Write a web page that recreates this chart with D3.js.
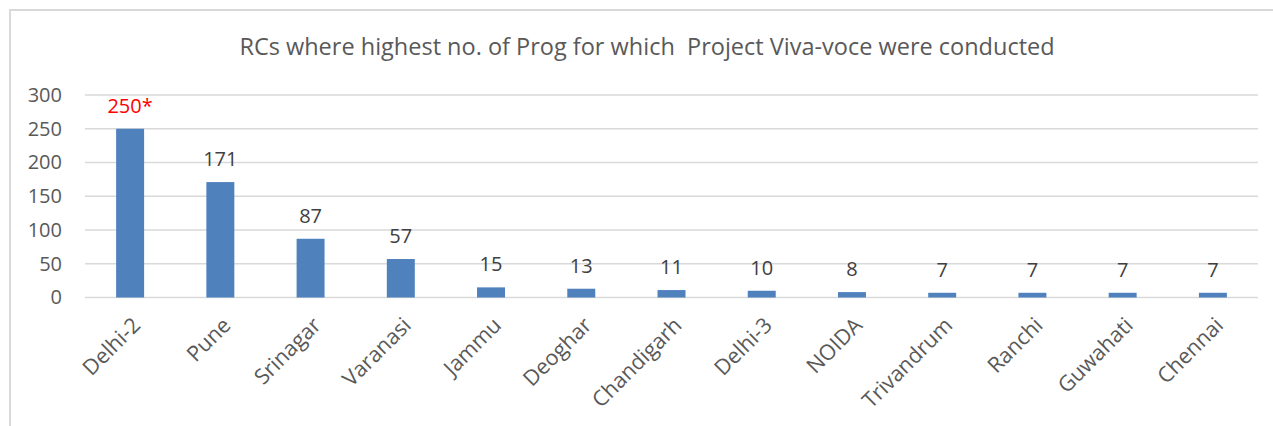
<!DOCTYPE html>
<html lang="en">
<head>
    <meta charset="UTF-8">
    <title>RCs chart</title>
    <script src="https://d3js.org/d3.v7.min.js"></script>
    <style>
        body { margin: 0; background: #fff; }
        text { font-family: "Open Sans", sans-serif; fill: #595959; }
    </style>
</head>
<body>
    <script>
        // data
        var centres = ["Delhi-2", "Pune", "Srinagar", "Varanasi", "Jammu", "Deoghar", "Chandigarh",
            "Delhi-3", "NOIDA", "Trivandrum", "Ranchi", "Guwahati", "Chennai"];
        var progCount = [250, 171, 87, 57, 15, 13, 11, 10, 8, 7, 7, 7, 7];
        var labelText = ["250*", "171", "87", "57", "15", "13", "11", "10", "8", "7", "7", "7", "7"];
        var yTicks = [0, 50, 100, 150, 200, 250, 300];

        var W = 1273, H = 426;
        var svg = d3.select("body").append("svg").attr("width", W).attr("height", H);

        // chart area border (left and top are visible)
        svg.append("path")
            .attr("d", "M10,426 L10,10 L1273,10")
            .attr("fill", "none").attr("stroke", "#d9d9d9").attr("stroke-width", 2);

        svg.append("text")
            .attr("x", 647).attr("y", 55)
            .attr("text-anchor", "middle")
            .style("font-size", "23.5px")
            .style("white-space", "pre")
            .text("RCs where highest no. of Prog for which  Project Viva-voce were conducted");

        var x = d3.scaleBand().domain(centres).range([85, 1258]).paddingInner(0.69).paddingOuter(0.345);
        var y = d3.scaleLinear().domain([0, 300]).range([297.5, 95]);

        // gridlines
        svg.append("g").selectAll("line").data(yTicks).enter().append("line")
            .attr("x1", 85).attr("x2", 1258)
            .attr("y1", function (d) { return y(d); })
            .attr("y2", function (d) { return y(d); })
            .attr("stroke", "#d9d9d9").attr("stroke-width", 1.5);

        var yAxis = svg.append("g").attr("transform", "translate(62,0)")
            .call(d3.axisLeft(y).tickValues(yTicks).tickSize(0).tickPadding(0));
        yAxis.select(".domain").remove();
        yAxis.selectAll("text").style("font-size", "20px").attr("fill", "#595959");

        svg.append("g").selectAll("rect").data(progCount).enter().append("rect")
            .attr("x", function (d, i) { return x(centres[i]); })
            .attr("y", function (d) { return y(d); })
            .attr("width", x.bandwidth())
            .attr("height", function (d) { return y(0) - y(d); })
            .attr("fill", "#4f81bd");

        svg.append("g").selectAll("text").data(progCount).enter().append("text")
            .attr("x", function (d, i) { return x(centres[i]) + x.bandwidth() / 2; })
            .attr("y", function (d) { return y(d) - 16; })
            .attr("text-anchor", "middle")
            .style("font-size", "20px")
            .style("fill", function (d, i) { return i == 0 ? "#ff0000" : "#404040"; })
            .text(function (d, i) { return labelText[i]; });

        // rotated category labels
        svg.append("g").selectAll("text").data(centres).enter().append("text")
            .attr("transform", function (d) {
                return "translate(" + (x(d) + x.bandwidth() / 2 + 1) + ",316) rotate(-45)";
            })
            .attr("text-anchor", "end")
            .attr("dy", "0.7em")
            .style("font-size", "21.5px")
            .text(function (d) { return d; });
    </script>
</body>
</html>
